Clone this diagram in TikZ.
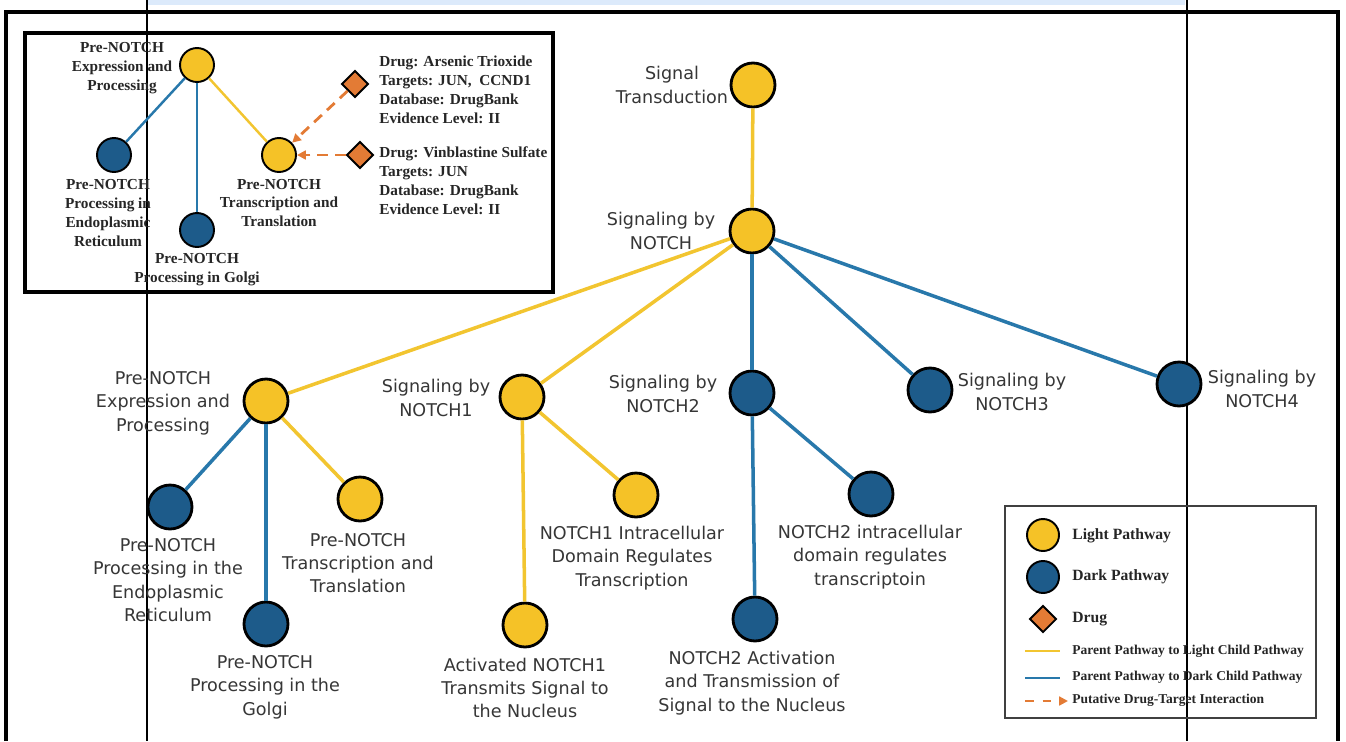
\documentclass[tikz,border=0pt]{standalone}
\usepackage{fontspec}
\setmainfont{Liberation Serif}
\newfontfamily\treefont{DejaVu Sans}
\usepackage{xcolor}
\definecolor{pathLight}{HTML}{F5C227}
\definecolor{pathDark}{HTML}{1D5B8A}
\definecolor{edgeLight}{HTML}{F2C530}
\definecolor{edgeDark}{HTML}{2878AB}
\definecolor{drugOrange}{HTML}{E37B35}
\definecolor{labelGray}{HTML}{363636}
\definecolor{stripBlue}{HTML}{DCEAFB}
\usepackage{tikz}
\usetikzlibrary{shapes.geometric,arrows.meta}

\tikzset{
  lightpath/.style={circle, draw=black, line width=1.6pt, fill=pathLight, minimum size=0.88cm, inner sep=0pt},
  darkpath/.style={lightpath, fill=pathDark},
  smalllight/.style={lightpath, line width=1.1pt, minimum size=0.68cm},
  smalldark/.style={smalllight, fill=pathDark},
  drugnode/.style={diamond, draw=black, line width=1.1pt, fill=drugOrange, minimum size=0.54cm, inner sep=0pt},
  treelabel/.style={align=center, inner sep=0pt, text=labelGray, font=\treefont\fontsize{10}{13.3}\selectfont},
  insetlabel/.style={align=center, inner sep=0pt, text=black!85, font=\bfseries\fontsize{8.7}{10.8}\selectfont},
  druglabel/.style={insetlabel, align=left, anchor=west},
  legendlabel/.style={anchor=west, inner sep=0pt, text=black!85, font=\bfseries\fontsize{8.9}{10}\selectfont},
  legendsmall/.style={legendlabel, font=\bfseries\fontsize{7.7}{8}\selectfont},
  toLight/.style={draw=edgeLight, line width=2pt},
  toDark/.style={draw=edgeDark, line width=2pt},
  toDrug/.style={draw=drugOrange, line width=1.6pt, dashed, dash pattern=on 6pt off 4pt, -{Triangle[length=5pt,width=5pt]}},
}

\begin{document}
\begin{tikzpicture}[x=0.02cm, y=-0.02cm]
  \useasboundingbox (0,0) rectangle (1346,741);
  % page edges
  \fill[stripBlue] (148,0) rectangle (1185,5);
  \draw[line width=0.6pt] (147,0) -- (147,741);
  \draw[line width=0.6pt] (1187,0) -- (1187,741);
  \draw[line width=2.4pt] (6,741) -- (6,12) -- (1338,12) -- (1338,741);

  % main tree
  \node[lightpath] (st) at (753,85) {};
  \node[lightpath] (notch) at (752,231) {};
  \node[lightpath] (prex) at (266,401) {};
  \node[lightpath] (n1) at (522,397) {};
  \node[darkpath] (n2) at (752,393) {};
  \node[darkpath] (n3) at (930,390) {};
  \node[darkpath] (n4) at (1179,384) {};
  \node[darkpath] (er) at (170,507) {};
  \node[lightpath] (tt) at (360,499) {};
  \node[darkpath] (golgi) at (266,624) {};
  \node[lightpath] (nicd) at (636,495) {};
  \node[lightpath] (n1act) at (525,625) {};
  \node[darkpath] (n2icd) at (871,494) {};
  \node[darkpath] (n2act) at (755,619) {};

  \draw[toLight] (st) -- (notch);
  \draw[toLight] (notch) -- (prex);
  \draw[toLight] (notch) -- (n1);
  \draw[toDark] (notch) -- (n2);
  \draw[toDark] (notch) -- (n3);
  \draw[toDark] (notch) -- (n4);
  \draw[toDark] (prex) -- (er);
  \draw[toLight] (prex) -- (tt);
  \draw[toDark] (prex) -- (golgi);
  \draw[toLight] (n1) -- (nicd);
  \draw[toLight] (n1) -- (n1act);
  \draw[toDark] (n2) -- (n2icd);
  \draw[toDark] (n2) -- (n2act);

  \node[treelabel] (stl) at (672,85) {Signal\\Transduction};
  \node[treelabel] (notchl) at (661,231) {Signaling by\\NOTCH};
  \node[treelabel] (prexl) at (163,403) {Pre-NOTCH\\Expression and\\Processing};
  \node[treelabel] (n1l) at (436,398) {Signaling by\\NOTCH1};
  \node[treelabel] (n2l) at (663,394) {Signaling by\\NOTCH2};
  \node[treelabel] (n3l) at (1012,392) {Signaling by\\NOTCH3};
  \node[treelabel] (n4l) at (1262,389) {Signaling by\\NOTCH4};
  \node[treelabel] (erl) at (168,580) {Pre-NOTCH\\Processing in the\\Endoplasmic\\Reticulum};
  \node[treelabel] (ttl) at (358,563) {Pre-NOTCH\\Transcription and\\Translation};
  \node[treelabel] (golgil) at (265,687) {Pre-NOTCH\\Processing in the\\Golgi};
  \node[treelabel] (nicdl) at (632,558) {NOTCH1 Intracellular\\Domain Regulates\\Transcription};
  \node[treelabel] (n1actl) at (525,688) {Activated NOTCH1\\Transmits Signal to\\the Nucleus};
  \node[treelabel] (n2icdl) at (870,557) {NOTCH2 intracellular\\domain regulates\\transcriptoin};
  \node[treelabel] (n2actl) at (752,683) {NOTCH2 Activation\\and Transmission of\\Signal to the Nucleus};

  % inset with drugs
  \draw[line width=2.4pt] (25,33) rectangle (553,292);
  \node[smalllight] (iprex) at (197,65) {};
  \node[smalldark] (ier) at (114,155) {};
  \node[smalldark] (igolgi) at (197,230) {};
  \node[smalllight] (itt) at (279,155) {};
  \node[drugnode] (arsenic) at (355,84) {};
  \node[drugnode] (vinbl) at (360,155) {};
  \draw[toDark, line width=1.4pt] (iprex) -- (ier);
  \draw[toDark, line width=1.4pt] (iprex) -- (igolgi);
  \draw[toLight, line width=1.4pt] (iprex) -- (itt);
  \draw[toDrug] (arsenic) -- (itt);
  \draw[toDrug] (vinbl) -- (itt);
  \node[insetlabel] (iprexl) at (122,68) {Pre-NOTCH\\Expression and\\Processing};
  \node[insetlabel] (ierl) at (108,213) {Pre-NOTCH\\Processing in\\Endoplasmic\\Reticulum};
  \node[insetlabel] (igolgil) at (197,270) {Pre-NOTCH\\Processing in Golgi};
  \node[insetlabel] (ittl) at (279,203) {Pre-NOTCH\\Transcription and\\Translation};
  \node[druglabel] (arsenicl) at (379,90) {Drug: Arsenic Trioxide\\Targets: JUN,\ \ CCND1\\Database: DrugBank\\Evidence Level: II};
  \node[druglabel] (vinbll) at (379,181) {Drug: Vinblastine Sulfate\\Targets: JUN\\Database: DrugBank\\Evidence Level: II};

  % legend
  \draw[line width=0.8pt, black!75] (1005,506) rectangle (1316,718);
  \node[lightpath, line width=1.1pt, minimum size=0.64cm] (keylight) at (1043,535) {};
  \node[darkpath, line width=1.1pt, minimum size=0.64cm] (keydark) at (1043,577) {};
  \node[drugnode] (keydrug) at (1043,619) {};
  \coordinate (lightA) at (1025,651);
  \coordinate (lightB) at (1060,651);
  \coordinate (darkA) at (1025,678);
  \coordinate (darkB) at (1060,678);
  \coordinate (drugA) at (1025,701);
  \coordinate (drugB) at (1068,701);
  \draw[toLight, line width=1.4pt] (lightA) -- (lightB);
  \draw[toDark, line width=1.4pt] (darkA) -- (darkB);
  \draw[toDrug, line width=1.2pt, dash pattern=on 5pt off 5pt] (drugA) -- (drugB);
  \node[legendlabel] (keylightl) at (1072,536) {Light Pathway};
  \node[legendlabel] (keydarkl) at (1072,577) {Dark Pathway};
  \node[legendlabel] (keydrugl) at (1072,619) {Drug};
  \node[legendsmall] (keytolight) at (1072,651) {Parent Pathway to Light Child Pathway};
  \node[legendsmall] (keytodark) at (1072,677) {Parent Pathway to Dark Child Pathway};
  \node[legendsmall] (keytodrug) at (1072,700) {Putative Drug-Target Interaction};
\end{tikzpicture}
\end{document}
